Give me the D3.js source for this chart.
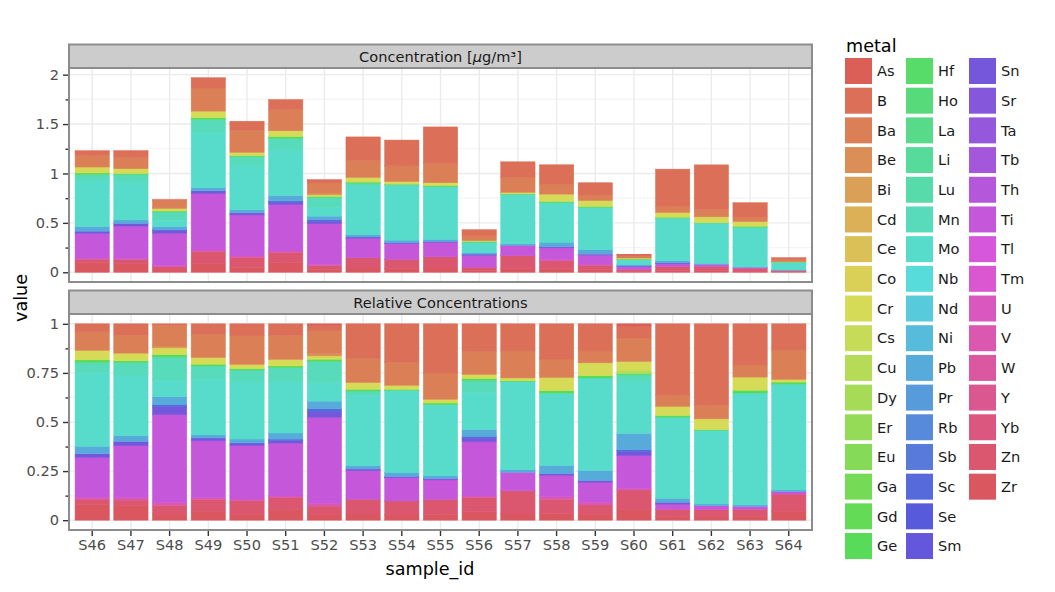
<!DOCTYPE html>
<html>
<head>
<meta charset="utf-8">
<script src="https://cdn.jsdelivr.net/npm/d3@7"></script>
<style>
  body { margin: 0; background: #fff; }
  text { font-family: "DejaVu Sans", sans-serif; }
</style>
</head>
<body>
<script>
// sample ids on the x axis
const samples = ["S46", "S47", "S48", "S49", "S50", "S51", "S52", "S53", "S54", "S55",
  "S56", "S57", "S58", "S59", "S60", "S61", "S62", "S63", "S64"];

// all metals, in legend order (first level is stacked on top)
const metals = ["As", "B", "Ba", "Be", "Bi", "Cd", "Ce", "Co", "Cr", "Cs", "Cu", "Dy", "Er",
  "Eu", "Ga", "Gd", "Ge", "Hf", "Ho", "La", "Li", "Lu", "Mn", "Mo", "Nb", "Nd", "Ni", "Pb",
  "Pr", "Rb", "Sb", "Sc", "Se", "Sm", "Sn", "Sr", "Ta", "Tb", "Th", "Ti", "Tl", "Tm", "U",
  "V", "W", "Y", "Yb", "Zn", "Zr"];

// concentrations in µg/m³, one value per sample; metals not listed are 0
const As = [0, 0, 0, 0, 0, 0, .009, 0, 0, 0, 0, 0, 0, 0, .0025, 0, 0, 0, 0];
const B  = [.050, .071, .005, .104, .093, .101, .024, .239, .261, .369, .061, .154, .195, .125, .0104, .380, .452, .148, .020];
const Ba = [.116, .113, .078, .234, .222, .215, .107, .171, .158, .196, .050, .154, .102, .055, .0213, .059, .074, .043, .022];
const Be = [0, 0, .007, 0, 0, 0, .013, 0, 0, 0, 0, 0, 0, 0, 0, 0, 0, 0, 0];
const Cr = [.060, .048, .025, .067, .034, .059, .016, .047, .027, .028, .009, .016, .074, .059, .0079, .048, .060, .047, .002];
const Cu = [0, 0, 0, 0, 0, 0, 0, 0, 0, 0, 0, 0, 0, 0, .003, 0, 0, 0, 0];
const Ge = [.017, .011, .009, .018, .011, .016, .011, .012, .007, .013, .005, .006, .013, .011, .0013, .009, .003, .010, .0015];
const Mn = [.063, .078, .087, .134, .093, .119, .101, .030, 0, 0, .026, 0, 0, 0, .0064, 0, 0, 0, 0];
const Mo = [.462, .381, .062, .555, .444, .462, .088, .491, .560, .532, .081, .500, .401, .427, .047, .432, .408, .401, .080];
const Pb = [.047, .036, .029, .033, .031, .054, .036, .023, .027, .021, .015, .016, .045, .046, .0147, .021, .010, .006, .0013];
const Sc = [0, 0, .009, 0, 0, .012, .016, 0, 0, 0, .004, 0, 0, 0, .0018, 0, 0, 0, 0];
const Sn = [.023, .027, .029, .028, .021, .024, .025, .012, .009, .010, .008, 0, .010, .008, .0036, .009, 0, 0, 0];
const Ti = [.250, .326, .328, .570, .415, .471, .411, .199, .158, .146, .119, .105, .118, .092, .0297, .028, .021, .010, .0018];
const V  = [.012, .015, .012, .018, .015, .016, .013, 0, 0, 0, .003, 0, .015, .013, .0016, 0, 0, 0, 0];
const Zn = [.032, .036, .032, .118, .103, .101, .038, .103, .096, .113, .031, .132, .078, .042, .0174, .040, .041, .027, .0129];
const Zr = [.099, .090, .023, .090, .047, .098, .029, .043, .035, .043, .019, .035, .037, .028, .010, .018, .018, .012, .0068];

const measured = { As, B, Ba, Be, Cr, Cu, Ge, Mn, Mo, Pb, Sc, Sn, Ti, V, Zn, Zr };

const topTicks = [0, 0.5, 1, 1.5, 2];
const bottomTicks = [0, 0.25, 0.5, 0.75, 1];

// build one row per sample
var rows = samples.map(function (s, i) {
  var r = { sample: s };
  metals.forEach(function (m) {
    r[m] = measured[m] ? measured[m][i] : 0;
  });
  return r;
});

// plotnine style hue palette (hls, l=.6, s=.65)
var color = d3.scaleOrdinal()
  .domain(metals)
  .range(metals.map(function (m, i) {
    return d3.hsl(((i / metals.length + 0.01) % 1) * 360, 0.65, 0.6).formatHex();
  }));

var width = 1055, height = 592;
var panelLeft = 69, panelRight = 812;

var svg = d3.select("body").append("svg")
  .attr("width", width)
  .attr("height", height);

var x = d3.scaleBand()
  .domain(samples)
  .range([panelLeft, panelRight])
  .paddingInner(0.1)
  .paddingOuter(0.15);

// first legend level ends up on top of the stack
var keys = metals.slice().reverse();

var facets = [
  {
    title: "Concentration [",
    unit: true,
    top: 68, bottom: 282,
    offset: d3.stackOffsetNone,
    ticks: topTicks,
    minor: [0.25, 0.75, 1.25, 1.75],
    xaxis: false
  },
  {
    title: "Relative Concentrations",
    unit: false,
    top: 314, bottom: 530,
    offset: d3.stackOffsetExpand,
    ticks: bottomTicks,
    minor: [0.125, 0.375, 0.625, 0.875],
    xaxis: true
  }
];

facets.forEach(function (f) {
  var series = d3.stack().keys(keys).offset(f.offset)(rows);
  var maxVal = d3.max(series[series.length - 1], function (d) { return d[1]; });
  var y = d3.scaleLinear()
    .domain([-0.05 * maxVal, 1.05 * maxVal])
    .range([f.bottom, f.top]);

  var g = svg.append("g");

  // strip
  g.append("rect")
    .attr("x", panelLeft).attr("y", f.top - 23.5)
    .attr("width", panelRight - panelLeft).attr("height", 23.5)
    .attr("fill", "#cccccc").attr("stroke", "#8c8c8c").attr("stroke-width", 2);
  var st = g.append("text")
    .attr("x", (panelLeft + panelRight) / 2)
    .attr("y", f.top - 11.5)
    .attr("dy", "0.36em")
    .attr("text-anchor", "middle")
    .attr("font-size", 14.6)
    .attr("fill", "#1a1a1a");
  if (f.unit) {
    st.append("tspan").text(f.title);
    st.append("tspan").attr("font-style", "italic").text("\u03bc");
    st.append("tspan").text("g/m\u00b3]");
  } else {
    st.text(f.title);
  }

  // grid
  g.selectAll(".minor").data(f.minor).enter().append("line")
    .attr("x1", panelLeft).attr("x2", panelRight)
    .attr("y1", function (d) { return y(d); }).attr("y2", function (d) { return y(d); })
    .attr("stroke", "#f4f4f4").attr("stroke-width", 1.2);
  g.selectAll(".major").data(f.ticks).enter().append("line")
    .attr("x1", panelLeft).attr("x2", panelRight)
    .attr("y1", function (d) { return y(d); }).attr("y2", function (d) { return y(d); })
    .attr("stroke", "#ebebeb").attr("stroke-width", 1.4);
  g.selectAll(".vgrid").data(samples).enter().append("line")
    .attr("x1", function (d) { return x(d) + x.bandwidth() / 2; })
    .attr("x2", function (d) { return x(d) + x.bandwidth() / 2; })
    .attr("y1", f.top).attr("y2", f.bottom)
    .attr("stroke", "#ebebeb").attr("stroke-width", 1.4);

  // stacked bars (zero-height pieces skipped, thin same-colour stroke hides seams)
  g.selectAll("g.layer")
    .data(series)
    .enter().append("g")
    .attr("class", "layer")
    .attr("fill", function (d) { return color(d.key); })
    .attr("stroke", function (d) { return color(d.key); })
    .attr("stroke-width", 0.5)
    .selectAll("rect")
    .data(function (d) { return d.filter(function (p) { return p[1] - p[0] > 0; }); })
    .enter().append("rect")
    .attr("x", function (d) { return x(d.data.sample) + 0.25; })
    .attr("width", x.bandwidth() - 0.5)
    .attr("y", function (d) { return y(d[1]); })
    .attr("height", function (d) { return Math.max(0, y(d[0]) - y(d[1])); });

  // panel border
  g.append("rect")
    .attr("x", panelLeft).attr("y", f.top)
    .attr("width", panelRight - panelLeft).attr("height", f.bottom - f.top)
    .attr("fill", "none").attr("stroke", "#8c8c8c").attr("stroke-width", 2);

  // y axis
  var yAxis = d3.axisLeft(y)
    .tickValues(f.ticks)
    .tickFormat(function (d) { return String(d); })
    .tickSize(5)
    .tickPadding(4);
  var ya = g.append("g")
    .attr("transform", "translate(" + (panelLeft - 1) + ",0)")
    .call(yAxis);
  ya.select(".domain").remove();
  ya.selectAll(".tick line").attr("stroke", "#333").attr("stroke-width", 1.4);
  ya.selectAll(".tick text").attr("font-size", 14.6).attr("fill", "#4d4d4d")
    .style("font-family", "DejaVu Sans");

  var yMinor = d3.axisLeft(y).tickValues(f.minor).tickFormat("").tickSize(2.5);
  var ym = g.append("g")
    .attr("transform", "translate(" + (panelLeft - 1) + ",0)")
    .call(yMinor);
  ym.select(".domain").remove();
  ym.selectAll(".tick line").attr("stroke", "#333").attr("stroke-width", 1.4);

  if (f.xaxis) {
    var xAxis = d3.axisBottom(x).tickSize(5).tickPadding(3.5);
    var xa = g.append("g")
      .attr("transform", "translate(0," + (f.bottom + 1) + ")")
      .call(xAxis);
    xa.select(".domain").remove();
    xa.selectAll(".tick line").attr("stroke", "#333").attr("stroke-width", 1.4);
    xa.selectAll(".tick text").attr("font-size", 14.6).attr("fill", "#4d4d4d")
      .style("font-family", "DejaVu Sans");
  }
});

// axis titles
svg.append("text")
  .attr("transform", "translate(27,298) rotate(-90)")
  .attr("text-anchor", "middle")
  .attr("font-size", 17.6)
  .text("value");
svg.append("text")
  .attr("x", 430).attr("y", 575)
  .attr("text-anchor", "middle")
  .attr("font-size", 17.6)
  .text("sample_id");

// legend, 3 columns
var legendCols = [845, 906, 969];
var perCol = 17;
var legend = svg.append("g");
legend.append("text")
  .attr("x", 846).attr("y", 51.5)
  .attr("font-size", 17.6)
  .text("metal");
var items = legend.selectAll("g.item")
  .data(metals)
  .enter().append("g")
  .attr("class", "item")
  .attr("transform", function (d, i) {
    var col = Math.floor(i / perCol), row = i % perCol;
    return "translate(" + legendCols[col] + "," + (58 + row * 29.69) + ")";
  });
items.append("rect")
  .attr("width", 27).attr("height", 26)
  .attr("fill", function (d) { return color(d); });
items.append("text")
  .attr("x", 32).attr("y", 13)
  .attr("dy", "0.36em")
  .attr("font-size", 14.6)
  .attr("fill", "#1a1a1a")
  .text(function (d) { return d; });
</script>
</body>
</html>
